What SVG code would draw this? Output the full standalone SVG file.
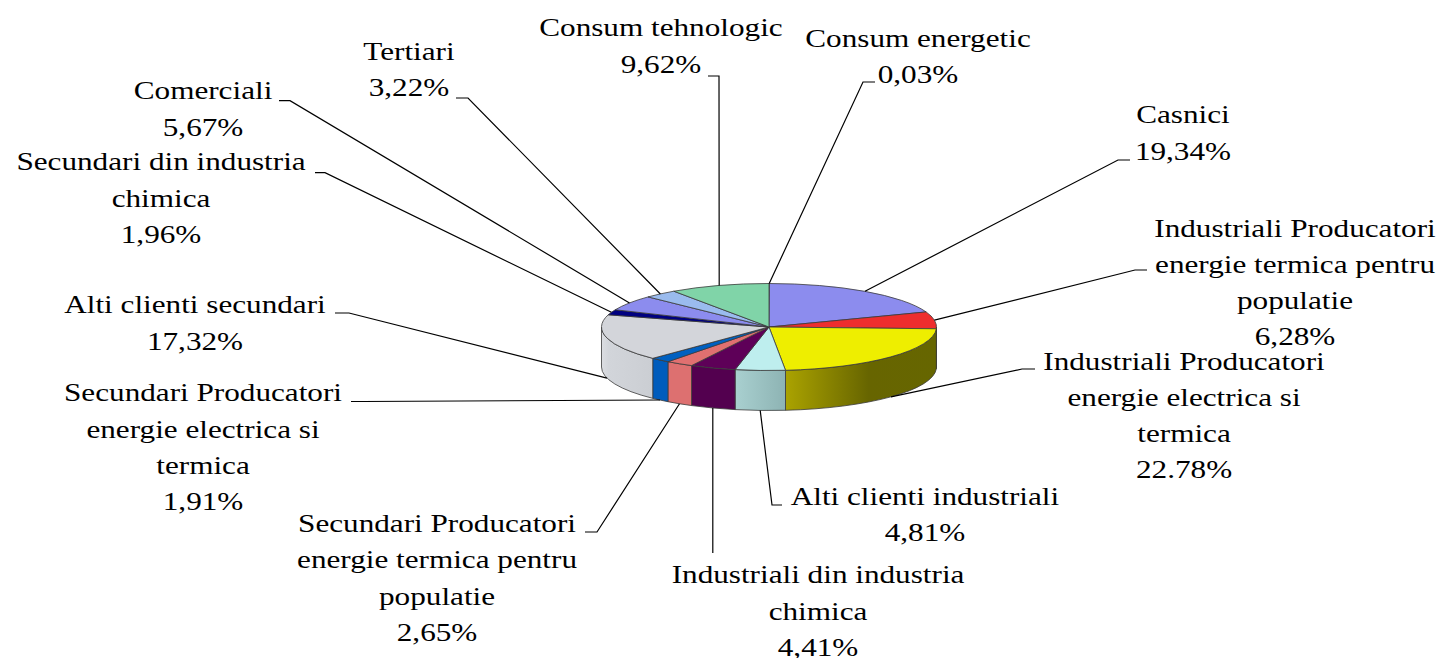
<svg xmlns="http://www.w3.org/2000/svg" width="1443" height="658" viewBox="0 0 1443 658">
<style>
.s{stroke:#3a3a3a;stroke-width:0.8;stroke-linejoin:round}
.ld{fill:none;stroke:#000;stroke-width:1.2}
.t text{font-size:26px;fill:#000;text-anchor:middle}
</style>
<defs>
<linearGradient id="gY" gradientUnits="userSpaceOnUse" x1="785" y1="0" x2="937" y2="0">
<stop offset="0" stop-color="#ABA300"/><stop offset="0.55" stop-color="#676500"/><stop offset="1" stop-color="#666600"/>
</linearGradient>
<linearGradient id="gC" gradientUnits="userSpaceOnUse" x1="735" y1="0" x2="786" y2="0">
<stop offset="0" stop-color="#A9D0D0"/><stop offset="1" stop-color="#8DB3B3"/>
</linearGradient>
<linearGradient id="gG" gradientUnits="userSpaceOnUse" x1="601" y1="0" x2="653" y2="0">
<stop offset="0" stop-color="#DCDEE2"/><stop offset="0.15" stop-color="#D2D5DA"/><stop offset="1" stop-color="#CBCED3"/>
</linearGradient>
</defs>
<rect width="1443" height="658" fill="#fff"/>

<g id="pie-sides">
<path class="s" fill="#CC2828" d="M936.5 327 A167.5 43.5 0 0 1 936.36 328.78 L936.36 368.78 A167.5 43.5 0 0 0 936.5 367 Z"/>
<path class="s" fill="url(#gY)" d="M936.36 328.78 A167.5 43.5 0 0 1 785.5 370.29 L785.5 410.29 A167.5 43.5 0 0 0 936.36 368.78 Z"/>
<path class="s" fill="url(#gC)" d="M785.5 370.29 A167.5 43.5 0 0 1 735.14 369.6 L735.14 409.6 A167.5 43.5 0 0 0 785.5 410.29 Z"/>
<path class="s" fill="#53004F" d="M735.14 369.6 A167.5 43.5 0 0 1 691.55 365.57 L691.55 405.57 A167.5 43.5 0 0 0 735.14 409.6 Z"/>
<path class="s" fill="#DD7070" d="M691.55 365.57 A167.5 43.5 0 0 1 667.96 361.69 L667.96 401.69 A167.5 43.5 0 0 0 691.55 405.57 Z"/>
<path class="s" fill="#005CBC" d="M667.96 361.69 A167.5 43.5 0 0 1 652.74 358.32 L652.74 398.32 A167.5 43.5 0 0 0 667.96 401.69 Z"/>
<path class="s" fill="url(#gG)" d="M652.74 358.32 A167.5 43.5 0 0 1 601.5 327 L601.5 367 A167.5 43.5 0 0 0 652.74 398.32 Z"/>
</g>

<g id="pie-top">
<path id="slice-consum-energetic" class="s" fill="#9999FF" d="M769 327 L769 283.5 A167.5 43.5 0 0 1 769.32 283.5 Z"/>
<path id="slice-casnici" class="s" fill="#8C8CEE" d="M769 327 L769.32 283.5 A167.5 43.5 0 0 1 926.13 311.93 Z"/>
<path id="slice-ind-termica" class="s" fill="#EE2E2E" d="M769 327 L926.13 311.93 A167.5 43.5 0 0 1 936.36 328.78 Z"/>
<path id="slice-ind-electrica" class="s" fill="#EEEE00" d="M769 327 L936.36 328.78 A167.5 43.5 0 0 1 785.5 370.29 Z"/>
<path id="slice-alti-ind" class="s" fill="#BEEEEE" d="M769 327 L785.5 370.29 A167.5 43.5 0 0 1 735.14 369.6 Z"/>
<path id="slice-ind-chimica" class="s" fill="#5E0058" d="M769 327 L735.14 369.6 A167.5 43.5 0 0 1 691.55 365.57 Z"/>
<path id="slice-sec-termica" class="s" fill="#E07070" d="M769 327 L691.55 365.57 A167.5 43.5 0 0 1 667.96 361.69 Z"/>
<path id="slice-sec-electrica" class="s" fill="#0060C0" d="M769 327 L667.96 361.69 A167.5 43.5 0 0 1 652.74 358.32 Z"/>
<path id="slice-alti-sec" class="s" fill="#D3D5DA" d="M769 327 L652.74 358.32 A167.5 43.5 0 0 1 608.25 314.79 Z"/>
<path id="slice-sec-chimica" class="s" fill="#000080" d="M769 327 L608.25 314.79 A167.5 43.5 0 0 1 615.23 309.75 Z"/>
<path id="slice-comerciali" class="s" fill="#8C8CEE" d="M769 327 L615.23 309.75 A167.5 43.5 0 0 1 648.05 296.91 Z"/>
<path id="slice-tertiari" class="s" fill="#9ABBEE" d="M769 327 L648.05 296.91 A167.5 43.5 0 0 1 673.81 291.21 Z"/>
<path id="slice-tehnologic" class="s" fill="#80D4A8" d="M769 327 L673.81 291.21 A167.5 43.5 0 0 1 769 283.5 Z"/>
</g>

<g id="connectors">
<path class="ld" d="M708 76 L719 76 L719.2 285.5"/>
<path class="ld" d="M875 82 L863 82 L769.2 283.5"/>
<path class="ld" d="M1130 160 L1118 160 L865 291.3"/>
<path class="ld" d="M1147 270 L1135 270 L934.4 320.2"/>
<path class="ld" d="M1035 369 L1022 369 L891 396.8"/>
<path class="ld" d="M782 505 L772 505 L760.2 410.4"/>
<path class="ld" d="M712.8 408 L712.8 553"/>
<path class="ld" d="M585 532 L597 532 L679.5 403.8"/>
<path class="ld" d="M351 401.5 L363 401.5 L660 400"/>
<path class="ld" d="M335 313 L349 313 L607 378.2"/>
<path class="ld" d="M315 172.7 L325 172.7 L611.4 312.3"/>
<path class="ld" d="M279 100.7 L290 100.7 L629.5 303"/>
<path class="ld" d="M456 98 L468 98 L660.4 294"/>
</g>

<g id="labels" class="t" transform="scale(1.2,1)" font-family="'Liberation Serif', 'Times New Roman', 'DejaVu Serif', serif">
<g id="lbl-tehnologic"><text x="550.8" y="36">Consum tehnologic</text><text x="550.8" y="73">9,62%</text></g>
<g id="lbl-energetic"><text x="765" y="47">Consum energetic</text><text x="765" y="83">0,03%</text></g>
<g id="lbl-tertiari"><text x="340.8" y="60.5">Tertiari</text><text x="340.8" y="96">3,22%</text></g>
<g id="lbl-comerciali"><text x="169.2" y="99">Comerciali</text><text x="169.2" y="136">5,67%</text></g>
<g id="lbl-sec-chimica"><text x="134.2" y="170">Secundari din industria</text><text x="134.2" y="207">chimica</text><text x="134.2" y="243">1,96%</text></g>
<g id="lbl-casnici"><text x="985.8" y="123">Casnici</text><text x="985.8" y="160">19,34%</text></g>
<g id="lbl-ind-termica"><text x="1079.2" y="237">Industriali Producatori</text><text x="1079.2" y="273">energie termica pentru</text><text x="1079.2" y="309">populatie</text><text x="1079.2" y="345">6,28%</text></g>
<g id="lbl-ind-electrica"><text x="986.7" y="370">Industriali Producatori</text><text x="986.7" y="406">energie electrica si</text><text x="986.7" y="442">termica</text><text x="986.7" y="478">22.78%</text></g>
<g id="lbl-alti-sec"><text x="162.5" y="313">Alti clienti secundari</text><text x="162.5" y="350">17,32%</text></g>
<g id="lbl-sec-electrica"><text x="169.2" y="401">Secundari Producatori</text><text x="169.2" y="438">energie electrica si</text><text x="169.2" y="474">termica</text><text x="169.2" y="510">1,91%</text></g>
<g id="lbl-sec-termica"><text x="364.2" y="532">Secundari Producatori</text><text x="364.2" y="568">energie termica pentru</text><text x="364.2" y="605">populatie</text><text x="364.2" y="641">2,65%</text></g>
<g id="lbl-alti-ind"><text x="770.8" y="505">Alti clienti industriali</text><text x="770.8" y="541">4,81%</text></g>
<g id="lbl-ind-chimica"><text x="681.7" y="583">Industriali din industria</text><text x="681.7" y="620">chimica</text><text x="681.7" y="656">4,41%</text></g>
</g>
</svg>
